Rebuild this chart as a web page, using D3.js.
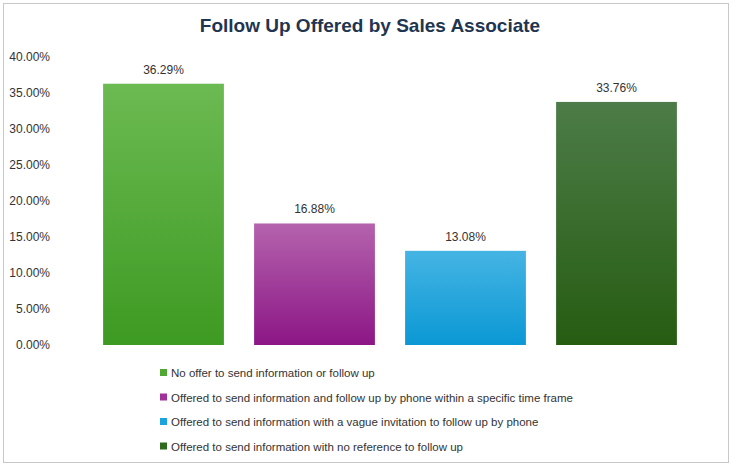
<!DOCTYPE html>
<html><head><meta charset="utf-8">
<script src="https://cdn.jsdelivr.net/npm/d3@7"></script>
<style>body{margin:0;background:#fff}text{font-family:"Liberation Sans",Arial,sans-serif}</style>
</head><body>
<script>
const categories = [
  "No offer to send information or follow up",
  "Offered to send information and follow up by phone within a specific time frame",
  "Offered to send information with a vague invitation to follow up by phone",
  "Offered to send information with no reference to follow up"
];
const values = [36.29, 16.88, 13.08, 33.76];
const yTicks = [0, 5, 10, 15, 20, 25, 30, 35, 40];
const topColors = ["#6cba52", "#b463ad", "#45b4e3", "#4d7c48"];
const bottomColors = ["#3d9a22", "#8c1686", "#0b98d5", "#265c12"];
const solidColors = ["#4ea832", "#a0309a", "#1aa3dc", "#2e6a1c"];

const W = 732, H = 467;
const svg = d3.select("body").append("svg").attr("width", W).attr("height", H);
svg.append("rect").attr("x", 3.5).attr("y", 3.5).attr("width", 725).attr("height", 459)
  .attr("fill", "#fff").attr("stroke", "#c8c8c8");

svg.append("text").attr("x", 370).attr("y", 32).attr("text-anchor", "middle")
  .attr("font-size", 19).attr("font-weight", "bold").attr("fill", "#1f3550")
  .text("Follow Up Offered by Sales Associate");

const x = d3.scaleBand().domain(d3.range(4)).range([88, 692]).paddingInner(0.2).paddingOuter(0.1);
const y = d3.scaleLinear().domain([0, 40]).range([345, 57]);

const defs = svg.append("defs");
topColors.forEach((c, i) => {
  const g = defs.append("linearGradient").attr("id", "g" + i).attr("x1", 0).attr("x2", 0).attr("y1", 0).attr("y2", 1);
  g.append("stop").attr("offset", "0%").attr("stop-color", c);
  g.append("stop").attr("offset", "100%").attr("stop-color", bottomColors[i]);
});

svg.append("g").attr("transform", "translate(53,0)")
  .call(d3.axisLeft(y).tickValues(yTicks).tickSize(0).tickFormat(d => d.toFixed(2) + "%"))
  .call(g => g.select(".domain").remove())
  .selectAll("text").attr("font-size", 12).attr("fill", "#333");

svg.selectAll(".bar").data(values).join("rect")
  .attr("x", (d, i) => x(i)).attr("width", x.bandwidth())
  .attr("y", d => y(d)).attr("height", d => y(0) - y(d))
  .attr("fill", (d, i) => `url(#g${i})`);

svg.selectAll(".lbl").data(values).join("text")
  .attr("x", (d, i) => x(i) + x.bandwidth() / 2).attr("y", d => y(d) - 10)
  .attr("text-anchor", "middle").attr("font-size", 12).attr("fill", "#333")
  .text(d => d.toFixed(2) + "%");

const leg = svg.selectAll(".leg").data(categories).join("g")
  .attr("transform", (d, i) => `translate(160,${373 + i * 24.5})`);
leg.append("rect").attr("x", 0).attr("y", -4).attr("width", 7).attr("height", 7)
  .attr("fill", (d, i) => solidColors[i]);
leg.append("text").attr("x", 11).attr("y", 4).attr("font-size", 11.5).attr("fill", "#333").text(d => d);
</script>
</body></html>
